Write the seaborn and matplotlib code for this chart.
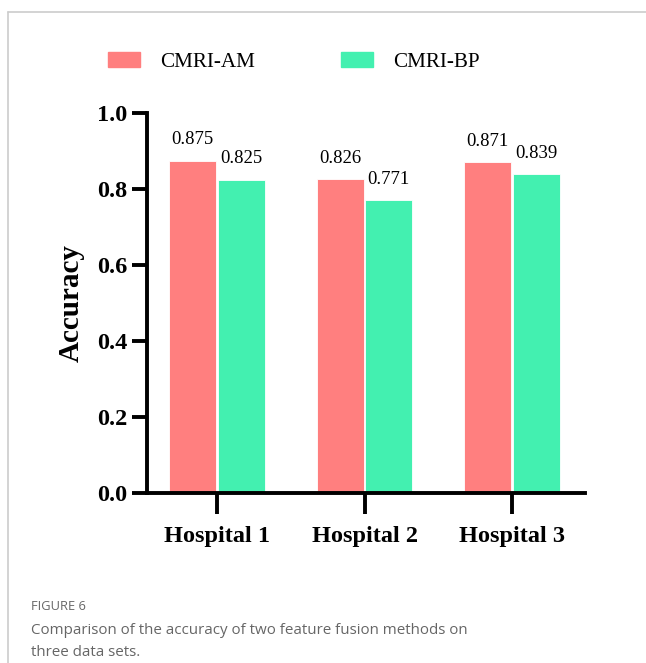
import pandas as pd
import seaborn as sns
import matplotlib.pyplot as plt
from matplotlib.lines import Line2D

hospitals = ["Hospital 1", "Hospital 2", "Hospital 3"]
methods = ["CMRI-AM", "CMRI-BP"]
am_acc = [0.875, 0.826, 0.871]
bp_acc = [0.825, 0.771, 0.839]
palette = ["#FF7F7F", "#43F0B0"]

df = pd.DataFrame({
    "hospital": hospitals * 2,
    "method": [methods[0]] * 3 + [methods[1]] * 3,
    "acc": am_acc + bp_acc,
})

sns.set_style("ticks")
plt.rcParams["font.family"] = ["Liberation Serif", "DejaVu Serif"]
plt.rcParams.update({"text.color": "black", "axes.edgecolor": "black",
                     "xtick.color": "black", "ytick.color": "black",
                     "axes.labelcolor": "black"})

fig = plt.figure(figsize=(6.46, 6.63), dpi=100)
ax = fig.add_axes([147 / 646, 1 - 493 / 663, 438 / 646, 380 / 663])

sns.barplot(data=df, x="hospital", y="acc", hue="method", palette=palette,
            width=0.66, gap=0.04, saturation=1, edgecolor="white", linewidth=0.6,
            ax=ax, legend=False)

for cont in ax.containers:
    ax.bar_label(cont, fmt="%.3f", padding=9, fontsize=13.5, color="black")

ax.set_ylim(0, 1.0)
ax.set_xlim(-0.475, 2.495)
ax.set_yticks([0, 0.2, 0.4, 0.6, 0.8, 1.0])
ax.set_yticklabels(["0.0", "0.2", "0.4", "0.6", "0.8", "1.0"], fontweight="bold", fontsize=17.5)
ax.set_xticklabels(hospitals, fontweight="bold", fontsize=17.5)
ax.set_xlabel("")
ax.set_ylabel("Accuracy", fontweight="bold", fontsize=21)
ax.yaxis.set_label_coords(-0.142, 0.5)

for s in ["top", "right"]:
    ax.spines[s].set_visible(False)
for s in ["left", "bottom"]:
    ax.spines[s].set_linewidth(2.8)
ax.tick_params(axis="y", length=11, width=2.8, pad=3)
ax.tick_params(axis="x", length=15, width=2.8, pad=9)

# legend above the plot
handles = [plt.Rectangle((0, 0), 1, 1, color=c) for c in palette]
fig.legend(handles, methods, loc="center", bbox_to_anchor=(294 / 646, 1 - 62 / 663),
           ncol=2, frameon=False, fontsize=15.2, handlelength=1.52, handleheight=0.7,
           columnspacing=4.1, handletextpad=0.95)

# caption
cap = dict(family=["Open Sans", "DejaVu Sans"], color="#666666")
fig.text(31 / 646, 1 - 607 / 663, "FIGURE 6", fontsize=9.3, va="center", **cap)
fig.text(31 / 646, 1 - 631 / 663, "Comparison of the accuracy of two feature fusion methods on",
         fontsize=10.9, va="center", **cap)
fig.text(31 / 646, 1 - 653 / 663, "three data sets.", fontsize=10.9, va="center", **cap)

# page frame
fig.add_artist(Line2D([8 / 646, 1], [1 - 12 / 663] * 2, color="#cccccc", lw=1.2))
fig.add_artist(Line2D([8 / 646] * 2, [0, 1 - 12 / 663], color="#cccccc", lw=1.2))

fig.savefig("out.png", dpi=100)
